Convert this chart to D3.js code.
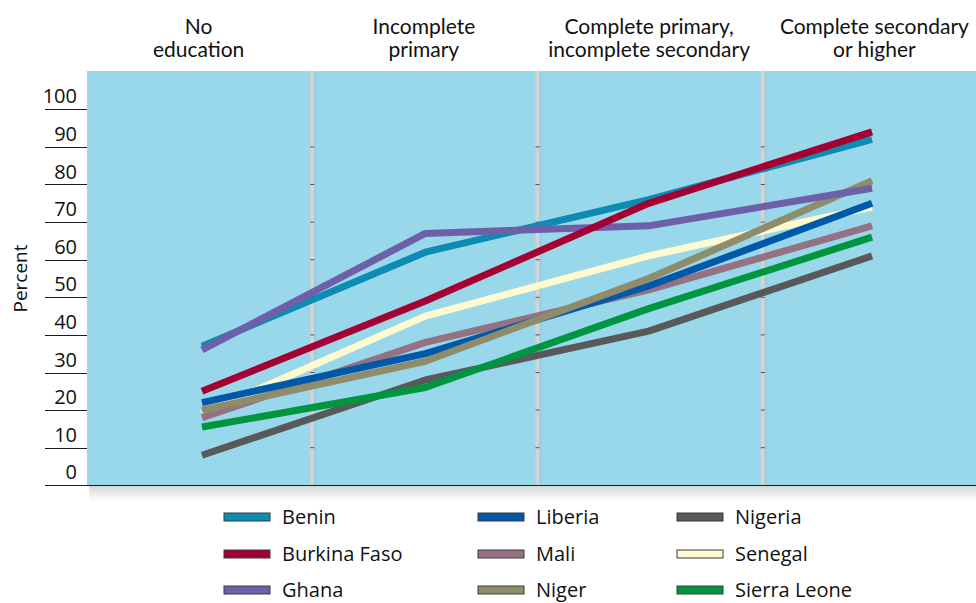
<!DOCTYPE html>
<html>
<head>
<meta charset="utf-8">
<script src="https://cdn.jsdelivr.net/npm/d3@7"></script>
<style>
  body { margin: 0; background: #fff; }
  svg { display: block; }
</style>
</head>
<body>
<svg id="chart" width="976" height="603"></svg>
<script>
// Education levels (x categories) and their two-line headings
const categories = ["No education", "Incomplete primary", "Complete primary, incomplete secondary", "Complete secondary or higher"];
const headerLines = [
  ["No", "education"],
  ["Incomplete", "primary"],
  ["Complete primary,", "incomplete secondary"],
  ["Complete secondary", "or higher"]
];

// Percent by education level, one array per country
const benin       = [37, 62, 76, 92];
const burkinaFaso = [25, 49, 75, 94];
const ghana       = [36, 67, 69, 79];
const liberia     = [22, 35, 53, 75];
const mali        = [18, 38, 52, 69];
const niger       = [20, 33, 55, 81];
const nigeria     = [8, 28, 41, 61];
const senegal     = [19, 45, 61, 74];
const sierraLeone = [15.5, 26, 47, 66];

const yTicks = [0, 10, 20, 30, 40, 50, 60, 70, 80, 90, 100];

const series = [
  { name: "Benin",        values: benin,       color: "#0c8cb2" },
  { name: "Burkina Faso", values: burkinaFaso, color: "#a50032" },
  { name: "Ghana",        values: ghana,       color: "#6e5fa9" },
  { name: "Liberia",      values: liberia,     color: "#0058a9" },
  { name: "Mali",         values: mali,        color: "#957184" },
  { name: "Niger",        values: niger,       color: "#8f8c6b" },
  { name: "Nigeria",      values: nigeria,     color: "#59595b" },
  { name: "Senegal",      values: senegal,     color: "#fffacf" },
  { name: "Sierra Leone", values: sierraLeone, color: "#00953f" }
];

// stacking order of the lines (first drawn = bottom)
const drawOrder = ["Senegal", "Mali", "Liberia", "Niger", "Nigeria", "Sierra Leone", "Benin", "Ghana", "Burkina Faso"];

const svg = d3.select("#chart");
const plotLeft = 87, plotTop = 71, plotBottom = 485.5, plotRight = 988;

const band = d3.scaleBand().domain(categories).range([plotLeft, plotRight]).padding(0);
const x = d3.scalePoint().domain(categories).range([202, 872]);
const y = d3.scaleLinear().domain([0, 100]).range([485.3, 109.3]);

// soft shadow under the plot area
const defs = svg.append("defs");
const sh = defs.append("linearGradient").attr("id", "shadow").attr("x1", 0).attr("y1", 0).attr("x2", 0).attr("y2", 1);
sh.append("stop").attr("offset", "0%").attr("stop-color", "#000").attr("stop-opacity", 0.16);
sh.append("stop").attr("offset", "100%").attr("stop-color", "#000").attr("stop-opacity", 0);
svg.append("rect").attr("x", plotLeft + 2).attr("y", plotBottom).attr("width", 976 - plotLeft).attr("height", 16)
  .attr("fill", "url(#shadow)");

// panel background
svg.append("rect").attr("x", plotLeft).attr("y", plotTop).attr("width", plotRight - plotLeft)
  .attr("height", plotBottom - plotTop).attr("fill", "#98d8ea");

// separators between the education panels
const seps = categories.slice(1).map(c => band(c));
const sepG = svg.append("g");
sepG.selectAll("rect.shade").data(seps).join("rect")
  .attr("x", d => d + 1).attr("y", plotTop).attr("width", 3).attr("height", plotBottom - plotTop)
  .attr("fill", "#90cfe0");
sepG.selectAll("rect.sep").data(seps).join("rect")
  .attr("x", d => d - 2).attr("y", plotTop).attr("width", 4).attr("height", plotBottom - plotTop)
  .attr("fill", "#d3d3d3");
seps.forEach(sx => {
  sepG.selectAll(null).data(yTicks.slice(1, -1)).join("line")
    .attr("x1", sx - 2).attr("x2", sx + 2)
    .attr("y1", d => y(d)).attr("y2", d => y(d))
    .attr("stroke", "#555").attr("stroke-width", 1);
});

// headings
const hdr = svg.append("g").attr("font-family", "Lato, 'Open Sans', sans-serif")
  .attr("font-size", 21).attr("fill", "#111").attr("text-anchor", "middle");
categories.forEach((c, i) => {
  const cx = band(c) + band.bandwidth() / 2 - 1;
  hdr.append("text").attr("x", cx).attr("y", 34).text(headerLines[i][0]);
  hdr.append("text").attr("x", cx).attr("y", 57).text(headerLines[i][1]);
});

// y ticks and labels
const axisG = svg.append("g").attr("font-family", "'Open Sans', sans-serif").attr("font-size", 20).attr("fill", "#111");
axisG.selectAll("line").data(yTicks).join("line")
  .attr("x1", 45).attr("x2", d => d === 0 ? 976 : plotLeft)
  .attr("y1", d => Math.round(y(d)) + 0.5).attr("y2", d => Math.round(y(d)) + 0.5)
  .attr("stroke", "#1a1a1a").attr("stroke-width", 1.2);
axisG.selectAll("text").data(yTicks).join("text")
  .attr("x", 77).attr("y", d => y(d) - 6).attr("text-anchor", "end").text(d => d);
axisG.append("text").attr("transform", `translate(27, ${y(55)}) rotate(-90)`)
  .attr("text-anchor", "middle").attr("font-size", 19).text("Percent");

// lines
const line = d3.line().x((d, i) => x(categories[i])).y(d => y(d));
const byName = new Map(series.map(s => [s.name, s]));
svg.append("g").selectAll("path").data(drawOrder.map(n => byName.get(n))).join("path")
  .attr("d", d => line(d.values)).attr("fill", "none")
  .attr("stroke", d => d.color).attr("stroke-width", 7).attr("stroke-linejoin", "round");

// legend
const legCols = [224, 478, 677];
const legRows = [517, 554, 590];
const leg = svg.append("g").attr("font-family", "'Open Sans', sans-serif").attr("font-size", 20).attr("fill", "#111");
series.forEach((s, i) => {
  const cx = legCols[Math.floor(i / 3)], cy = legRows[i % 3];
  leg.append("rect").attr("x", cx).attr("y", cy - 4).attr("width", 46).attr("height", 8)
    .attr("fill", s.color).attr("stroke", "#3a3a3a").attr("stroke-width", 1);
  leg.append("text").attr("x", cx + 58).attr("y", cy + 7).text(s.name);
});
</script>
</body>
</html>
